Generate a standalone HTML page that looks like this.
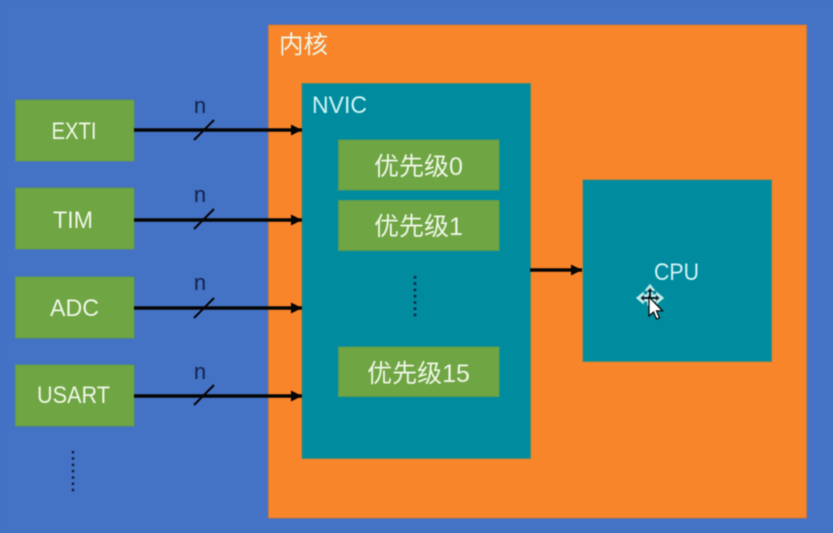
<!DOCTYPE html>
<html><head><meta charset="utf-8"><style>
html,body{margin:0;padding:0;background:#4472c4}
svg{display:block;filter:blur(.5px)}
text{font-family:"Liberation Sans","Noto Sans CJK SC",sans-serif;fill:#eef6e6;text-anchor:middle}
</style></head><body>
<svg width="833" height="533" viewBox="0 0 833 533" xmlns="http://www.w3.org/2000/svg">
<defs><marker id="a" markerUnits="userSpaceOnUse" markerWidth="12" markerHeight="12" refX="11" refY="5.500" orient="auto"><path d="M0 0L11 5.500L0 11z" fill="#050505"/></marker></defs>
<rect width="833" height="533" fill="#4472c4"/>
<rect x="268.500" y="25" width="538" height="493" fill="#f9852b" stroke="#c7793a" stroke-width="1"/>
<rect x="302" y="83.500" width="228.500" height="375" fill="#008c9e" stroke="#4c8a72" stroke-width="1"/>
<rect x="583" y="180" width="188.500" height="181.500" fill="#008c9e" stroke="#4c8a72" stroke-width="1"/>
<g fill="#6fa543" stroke="#5f9a50" stroke-width="1">
<rect x="15.500" y="100" width="118.500" height="61"/>
<rect x="15.500" y="188" width="118.500" height="61"/>
<rect x="15.500" y="277" width="118.500" height="61"/>
<rect x="15.500" y="365" width="118.500" height="61"/>
<rect x="338.500" y="140" width="160.500" height="50"/>
<rect x="338.500" y="200.500" width="160.500" height="50"/>
<rect x="338.500" y="347" width="160.500" height="49.500"/>
</g>
<g font-size="24">
<text x="74" y="139" textLength="45" lengthAdjust="spacingAndGlyphs">EXTI</text>
<text x="73" y="228" textLength="40" lengthAdjust="spacingAndGlyphs">TIM</text>
<text x="74.500" y="316" textLength="49" lengthAdjust="spacingAndGlyphs">ADC</text>
<text x="73.500" y="403" textLength="73" lengthAdjust="spacingAndGlyphs">USART</text>
</g>
<text x="303.500" y="53" font-size="24.500">内核</text>
<g font-size="24">
<text x="339.500" y="113" style="fill:#d2f3f5" textLength="55" lengthAdjust="spacingAndGlyphs">NVIC</text>
<text x="676.500" y="280" style="fill:#d2f3f5" textLength="45" lengthAdjust="spacingAndGlyphs">CPU</text>
</g>
<g font-size="25">
<text x="418.500" y="175">优先级0</text>
<text x="418.500" y="235">优先级1</text>
<text x="418.500" y="382">优先级15</text>
</g>
<g font-size="22">
<text x="200" y="113" style="fill:#10234f">n</text>
<text x="200" y="202" style="fill:#10234f">n</text>
<text x="200" y="290" style="fill:#10234f">n</text>
<text x="200" y="379" style="fill:#10234f">n</text>
</g>
<g stroke="#050505" stroke-width="3.500" fill="none">
<path d="M134 130H302" marker-end="url(#a)"/>
<path d="M134 220H302" marker-end="url(#a)"/>
<path d="M134 308H302" marker-end="url(#a)"/>
<path d="M134 396H302" marker-end="url(#a)"/>
<path d="M530 270H582" marker-end="url(#a)"/>
</g>
<g stroke="#050505" stroke-width="2" fill="none">
<path d="M194 140L214 120"/>
<path d="M194 229L214 209"/>
<path d="M194 318L214 298"/>
<path d="M194 405L214 385"/>
</g>
<g stroke="#10203a" stroke-width="2.500" stroke-dasharray="2.500 3.800" fill="none">
<path d="M415 276V320"/>
<path d="M73 451V495"/>
</g>
<g>
<path d="M650 285l4 5h-2v5h5v-2l6 5-6 5v-2h-5v4h-4v-4h-5v2l-6-5 6-5v2h5v-5h-2z" fill="#bfe9ea" stroke="#bfe9ea" stroke-width="1.500"/>
<path d="M650 288l3 4h-2v5h5v-2l3.500 3-3.500 3v-2h-5v3h-2v-3h-5v2l-3.500-3 3.500-3v2h5v-5h-2z" fill="#06202a"/>
<path d="M649 297V316l4.500-4 3 7 3-1.200-3-7h6z" fill="#fff" stroke="#000" stroke-width="1.200"/>
</g>
</svg>
</body></html>
